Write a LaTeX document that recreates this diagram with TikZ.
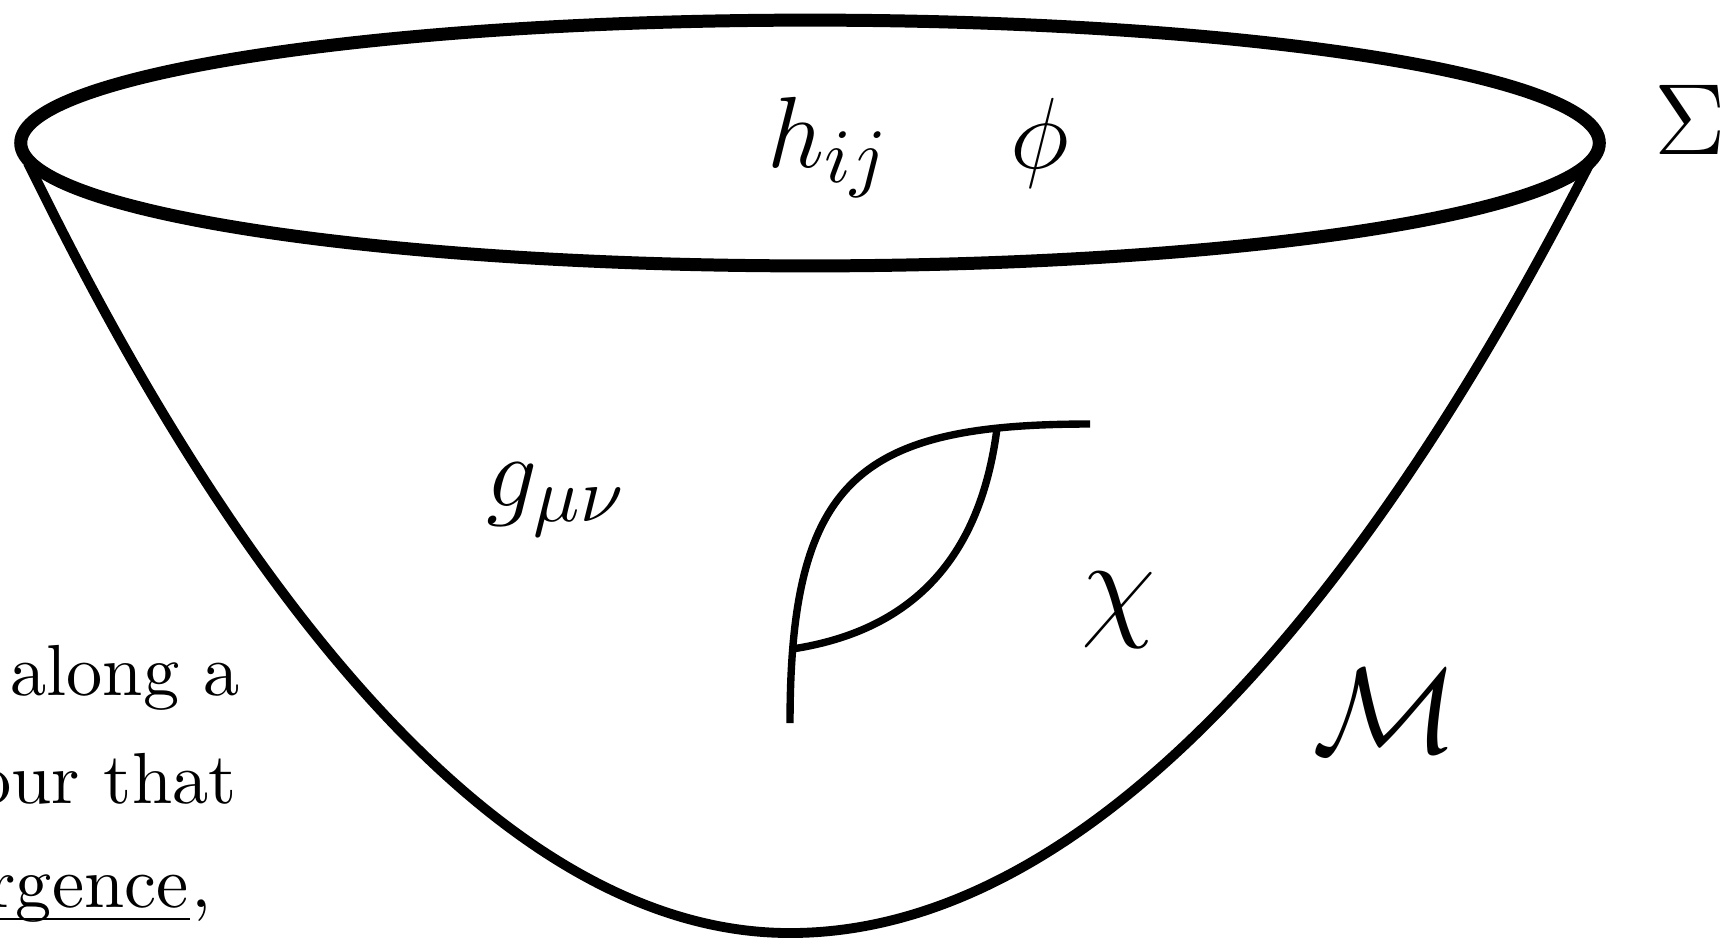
\documentclass[tikz,border=0pt]{standalone}
\usepackage{amsmath,amssymb}
\usetikzlibrary{calc}

\begin{document}
\begin{tikzpicture}[
  x=0.005cm, y=0.005cm,
  rim/.style={line width=1.85pt},
  bowl/.style={line width=1.4pt},
  leaf/.style={line width=1.05pt},
  lbl/.style={inner sep=0pt, font=\fontsize{15.3}{18}\selectfont},
  lblbig/.style={lbl, font=\fontsize{16.2}{19}\selectfont},
  txt/.style={inner sep=0pt, font=\fontsize{10.3}{12}\selectfont}
]
\path[use as bounding box, clip] (0,0) rectangle (1720,943);

\coordinate (rimL) at (28,780);
\coordinate (rimR) at (1590,780);
\coordinate (tip) at (790,10);
\draw[bowl] (rimL) parabola bend (tip) (rimR);
\draw[rim] (810,800) ellipse [x radius=3.95cm, y radius=0.615cm];

\coordinate (stem) at (790,220);
\coordinate (top) at (1090,519);
\draw[leaf] (stem) .. controls (790,465) and (860,519) .. coordinate[pos=0.11] (jl) coordinate[pos=0.85] (ju) (top);
\draw[leaf] (jl) .. controls +(117,18) and +(-17,-133) .. (ju);

\node[lbl, anchor=base west] (hij) at (766,776) {$h_{ij}$};
\node[lbl, anchor=base] (phi) at (1040,775) {$\phi$};
\node[lbl, font=\fontsize{14.8}{18}\selectfont, anchor=base west] (sigma) at (1653,789) {$\Sigma$};
\node[lbl, anchor=base west] (gmn) at (485,437) {$g_{\mu\nu}$};
\node[lblbig] (chi) at (1119,333) {$\chi$};
\node[lblbig] (mfd) at (1385,232) {$\mathcal{M}$};

\node[txt, anchor=base east] (lineA) at (241,248) {along a};
\node[txt, anchor=base east] (lineB) at (238,140) {our that};
\node[txt, anchor=base east] (comma) at (213,36) {,};
\node[txt, anchor=base east] (lineC) at (comma.base west) {rgence};
\draw[line width=0.4pt] ($(lineC.base west)+(0,-12)$) -- ($(lineC.base east)+(0,-12)$);
\end{tikzpicture}
\end{document}
